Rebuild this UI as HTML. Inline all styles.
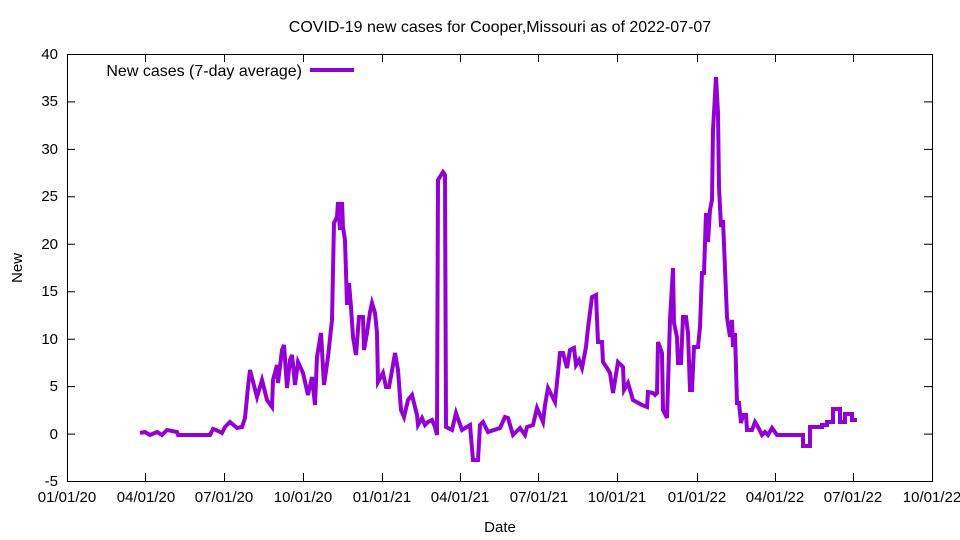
<!DOCTYPE html>
<html><head><meta charset="utf-8"><style>body{margin:0;background:#fff}svg{display:block}text{font-family:"Liberation Sans",sans-serif;font-size:15px;fill:#000}.b{font-size:16px}</style></head><body>
<svg width="960" height="540" viewBox="0 0 960 540" xmlns="http://www.w3.org/2000/svg">
<rect width="960" height="540" fill="#fff"/>
<text class="b" x="500" y="32" text-anchor="middle">COVID-19 new cases for Cooper,Missouri as of 2022-07-07</text>
<g stroke="#000" stroke-width="1" fill="none">
<rect x="67.5" y="54.5" width="865" height="427"/>
<path d="M67 481.5h8M932 481.5h-8M67 434.1h8M932 434.1h-8M67 386.6h8M932 386.6h-8M67 339.2h8M932 339.2h-8M67 291.7h8M932 291.7h-8M67 244.3h8M932 244.3h-8M67 196.8h8M932 196.8h-8M67 149.4h8M932 149.4h-8M67 101.9h8M932 101.9h-8"/>
<path d="M145.5 481v-8M145.5 54v8M224.5 481v-8M224.5 54v8M303.5 481v-8M303.5 54v8M382.5 481v-8M382.5 54v8M460.5 481v-8M460.5 54v8M538.5 481v-8M538.5 54v8M617.5 481v-8M617.5 54v8M697.5 481v-8M697.5 54v8M775.5 481v-8M775.5 54v8M853.5 481v-8M853.5 54v8"/>
</g>
<g text-anchor="end">
<text x="58" y="486">-5</text><text x="58" y="439">0</text><text x="58" y="391">5</text><text x="58" y="344">10</text><text x="58" y="296">15</text><text x="58" y="249">20</text><text x="58" y="201">25</text><text x="58" y="154">30</text><text x="58" y="106">35</text><text x="58" y="59">40</text>
</g>
<g text-anchor="middle">
<text x="67" y="502">01/01/20</text><text x="146" y="502">04/01/20</text><text x="224" y="502">07/01/20</text><text x="303" y="502">10/01/20</text><text x="382" y="502">01/01/21</text><text x="460" y="502">04/01/21</text><text x="539" y="502">07/01/21</text><text x="617" y="502">10/01/21</text><text x="697" y="502">01/01/22</text><text x="775" y="502">04/01/22</text><text x="853" y="502">07/01/22</text><text x="932" y="502">10/01/22</text>
<text x="500" y="532">Date</text>
<text x="22" y="268" transform="rotate(-90 22 268)">New</text>
</g>
<text class="b" x="302" y="76" text-anchor="end">New cases (7-day average)</text>
<path d="M310 70H354" stroke="#9400d3" stroke-width="4"/>
<polyline fill="none" stroke="#9400d3" stroke-width="4" stroke-linejoin="miter" points="140,433 145,432 150,435 157,432 162,435 167,430 177,432 178,435 210,435 213,429 216,430 222,433 225,427 230,422 237,428 242,427 245,418 248,387 250,370 257,397 262,380 267,400 272,407 273,380 277,365 278,383 282,350 284,345 287,388 290,360 292,355 295,385 298,362 303,373 308,395 312,377 315,405 317,357 321,333 324,385 328,357 332,320 334,223 337,217 338,202 340,230 342,202 343,227 345,240 347,305 349,283 351,307 353,337 356,355 359,317 363,317 364,350 367,333 370,312 372,303 375,313 377,333 378,382 383,373 386,387 389,387 393,365 395,353 398,370 401,410 404,417 408,400 412,395 417,415 418,425 422,418 425,425 428,422 432,420 435,427 437,435 438,180 443,172 445,175 446,427 452,430 456,413 462,430 470,425 473,460 478,460 480,425 483,422 488,432 500,428 505,417 508,418 513,435 520,428 525,435 527,427 533,425 537,408 543,422 545,405 548,388 555,402 560,353 563,353 567,368 570,350 574,348 576,365 579,360 582,368 586,347 588,328 592,297 596,295 598,342 602,342 603,362 607,368 610,373 613,393 618,362 623,367 624,390 628,383 633,400 642,405 647,407 648,392 653,393 655,395 657,393 658,342 662,353 663,410 667,418 670,320 673,268 674,323 677,337 678,363 681,363 683,317 686,317 688,333 690,390 692,390 694,347 698,347 700,327 702,273 704,273 706,213 708,242 710,210 712,200 713,130 714,113 716,77 718,113 719,187 721,227 723,220 727,317 730,337 732,320 733,347 735,333 737,403 739,403 741,423 743,415 746,415 747,430 752,430 755,422 758,427 762,435 765,432 768,435 772,428 777,435 803,435 803,446 810,446 810,427 822,427 822,425 827,425 827,422 833,422 833,409 840,409 840,422 845,422 845,414 852,414 852,420 857,420"/>
</svg>
</body></html>
